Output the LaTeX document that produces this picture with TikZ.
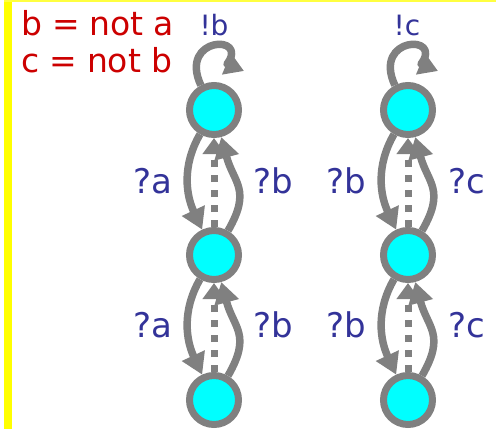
\documentclass[tikz,border=0pt]{standalone}
\usepackage{fontspec}
\setmainfont{DejaVu Sans}
\usepackage{tikz}
\usetikzlibrary{arrows.meta,positioning}
\definecolor{rulered}{HTML}{CC0000}
\definecolor{labelblue}{HTML}{333399}
\definecolor{linegray}{HTML}{808080}
\definecolor{statecyan}{HTML}{00FFFF}
\definecolor{framey}{HTML}{FFFF00}
\newcommand{\rulefont}{\fontsize{33}{34}\selectfont\spaceskip=10pt\relax}

\begin{document}
\begin{tikzpicture}[x=1pt,y=1pt,node distance=145pt,
  state/.style={circle,draw=linegray,line width=7pt,fill=statecyan,minimum size=49pt,inner sep=0pt},
  trans/.style={draw=linegray,line width=7.5pt,line join=round,-{Triangle[length=21pt,width=24pt]}},
  looptrans/.style={trans,-{Triangle[length=19pt,width=22pt]}},
  dotarrow/.style={draw=linegray,line width=7pt,dash pattern=on 7pt off 8pt,-{Triangle[length=16pt,width=22pt]}},
  lbl/.style={text=labelblue,font=\fontsize{34}{36}\selectfont,anchor=base,inner sep=0pt},
  outlbl/.style={text=labelblue,font=\fontsize{28}{28}\selectfont,anchor=base,inner sep=0pt},
  rule/.style={text=rulered,font=\rulefont,anchor=base west,inner sep=0pt}]
  \useasboundingbox (0,0) rectangle (501,-429);
  % yellow frame
  \fill[framey] (4,0) rectangle (11.5,-429);
  \fill[framey!75!white] (4,0) rectangle (496,-2);

  \node[rule] (ruleb) at (21,-35) {b = not a};
  \node[rule] (rulec) at (21,-72) {c = not b};

  % first column
  \node[state] (a1) at (214,-110) {};
  \node[state] (a2) [below of=a1] {};
  \node[state] (a3) [below of=a2] {};
  % second column
  \node[state] (c1) at (408,-110) {};
  \node[state] (c2) [below of=c1] {};
  \node[state] (c3) [below of=c2] {};

  \coordinate (a1tip) at (244,-71);
  \coordinate (c1tip) at (438,-71);
  \draw[looptrans] (a1.118) .. controls (178,-36) and (250,-34) .. (227,-64) -- (a1tip);
  \draw[looptrans] (c1.118) .. controls (372,-36) and (444,-34) .. (421,-64) -- (c1tip);

  \draw[trans] (a1) to[out=240,in=115] (a2);
  \draw[trans] (a2) to[out=60,in=-75,looseness=1.3] (a1);
  \draw[dotarrow] (a2) -- (a1);
  \draw[trans] (a2) to[out=240,in=115] (a3);
  \draw[trans] (a3) to[out=60,in=-75,looseness=1.3] (a2);
  \draw[dotarrow] (a3) -- (a2);

  \draw[trans] (c1) to[out=240,in=115] (c2);
  \draw[trans] (c2) to[out=60,in=-75,looseness=1.3] (c1);
  \draw[dotarrow] (c2) -- (c1);
  \draw[trans] (c2) to[out=240,in=115] (c3);
  \draw[trans] (c3) to[out=60,in=-75,looseness=1.3] (c2);
  \draw[dotarrow] (c3) -- (c2);

  % labels
  \node[outlbl] (outb) at (214,-35) {!b};
  \node[outlbl] (outc) at (407,-35) {!c};
  \node[lbl] (ina1) at (153,-193) {?a};
  \node[lbl] (inb1) at (273,-193) {?b};
  \node[lbl] (ina2) at (153,-337) {?a};
  \node[lbl] (inb2) at (273,-337) {?b};
  \node[lbl] (inb3) at (346,-193) {?b};
  \node[lbl] (inc1) at (467,-193) {?c};
  \node[lbl] (inb4) at (346,-337) {?b};
  \node[lbl] (inc2) at (467,-337) {?c};
\end{tikzpicture}
\end{document}
